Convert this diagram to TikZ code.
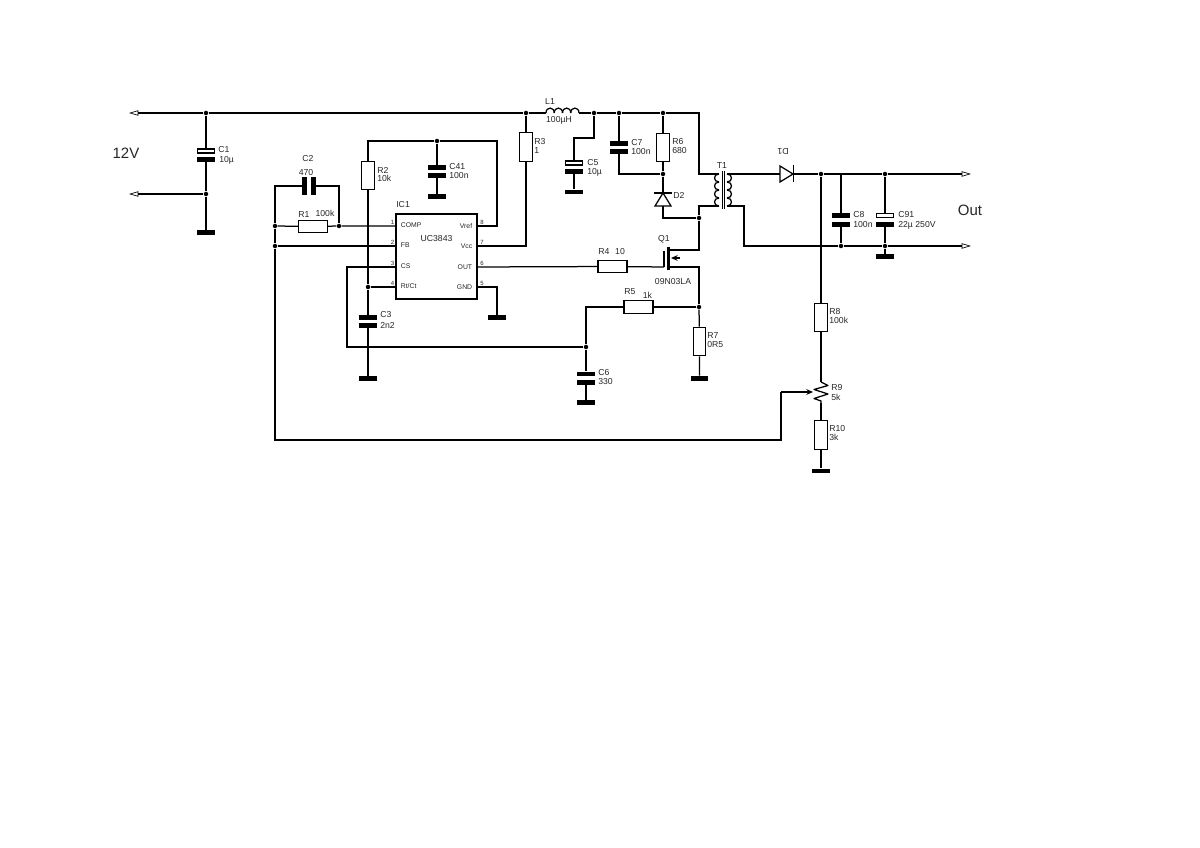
\documentclass[tikz,border=0pt]{standalone}
\usepackage{fontspec}
\setmainfont{Liberation Sans}
\usetikzlibrary{arrows.meta}

\tikzset{
  wire/.style={line width=.75pt,line join=miter},
  jdot/.style={circle,fill=black,inner sep=0pt,minimum size=2.7pt},
  resbox/.style={draw,line width=.7pt,fill=white,inner sep=0pt,minimum width=7.6pt,minimum height=17.2pt},
  resboxh/.style={draw,line width=.7pt,fill=white,inner sep=0pt,minimum width=17.4pt,minimum height=7.6pt},
  plate/.style={fill=black,inner sep=0pt,minimum width=10.6pt,minimum height=2.9pt},
  plateo/.style={draw,line width=.7pt,fill=white,inner sep=0pt,minimum width=10pt,minimum height=2.4pt},
  plateh/.style={fill=black,inner sep=0pt,minimum width=2.9pt,minimum height=10.8pt},
  gndbar/.style={fill=black,inner sep=0pt,minimum width=10.6pt,minimum height=2.9pt},
  lab/.style={inner sep=0pt,font=\fontsize{5.2}{6}\selectfont,text=black!85},
  lableft/.style={lab,anchor=west},
  pinlab/.style={inner sep=0pt,font=\fontsize{4.1}{5}\selectfont,text=black!85},
  pinnum/.style={inner sep=0pt,font=\fontsize{3.6}{4}\selectfont,text=black!85},
  biglab/.style={inner sep=0pt,font=\fontsize{9}{10}\selectfont,text=black!85},
  port/.style={-{Triangle[open,length=5.6pt,width=3.2pt,line width=.4pt]},line width=.75pt},
}

\begin{document}
\begin{tikzpicture}[x=.6pt,y=-.6pt,>=stealth]
  \useasboundingbox (0,0) rectangle (1200,848);

  % junctions
  \foreach \n/\x/\y in {a/206/113,b/206/194,c/526/113,d/594/113,e/619/113,f/663/113,
      g/437/141,h/275/226,i/275/246,j/339/226,k/368/287,l/586/347,m/699/307,
      n/663/174,o/699/218,p/821/174,q/885/174,r/841/246,s/885/246}
    \node[jdot] (j\n) at (\x,\y) {};

  % free ends
  \coordinate (in1) at (129,113);
  \coordinate (in2) at (129,194);
  \coordinate (out1) at (971,174);
  \coordinate (out2) at (971,246);

  % input
  \draw[port] (ja) -- (in1);
  \draw[port] (jb) -- (in2);
  \node[plateo] (C1a) at (206,151) {};
  \node[plate] (C1b) at (206,159.5) {};
  \node[gndbar] (G1) at (206,232.5) {};
  \draw[wire] (ja) -- (C1a) (C1b) -- (jb) -- (G1);
  \draw[wire] (ja) -- (jc);
  \node[lableft] (lC1) at (218,150) {C1};
  \node[lableft] (vC1) at (219,160) {10µ};
  \node[biglab] (l12V) at (126,153) {12V};

  % IC
  \node[draw,line width=1pt,fill=white,inner sep=0pt,minimum width=48.6pt,minimum height=51pt] (IC1) at (436.5,256.5) {};
  \node[lab,anchor=west] (lIC1) at (396,205) {IC1};
  \node[lab] (vIC1) at (436.5,239) {UC3843};
  \foreach \n/\y/\t in {1/226/COMP,2/246/FB,3/267/CS,4/287/{Rt/Ct}} {
    \coordinate (p\n) at (396,\y);
    \node[pinlab,anchor=west] (t\n) at (400.5,\y-.5) {\t};
    \node[pinnum] (n\n) at (392.5,\y-3.5) {\n};
  }
  \foreach \n/\y/\t in {8/226/Vref,7/246/Vcc,6/267/OUT,5/287/GND} {
    \coordinate (p\n) at (477,\y);
    \node[pinlab,anchor=east] (t\n) at (472.5,\y) {\t};
    \node[pinnum] (n\n) at (482,\y-3.5) {\n};
  }

  % feedback network
  \node[resboxh] (R1) at (313,226.5) {};
  \node[plateh] (C2a) at (304.5,186) {};
  \node[plateh] (C2b) at (313.5,186) {};
  \draw[wire] (jh) |- (C2a) (C2b) -| (jj);
  \draw[wire] (jh) -- (R1) -- (jj) -- (p1);
  \draw[wire] (jh) -- (ji) -- (p2);
  \coordinate (wip) at (781,440);
  \coordinate (wiq) at (781,392);
  \draw[wire] (ji) |- (wip) -- (wiq);
  \node[lab] (lC2) at (308,159) {C2};
  \node[lab] (vC2) at (306,172.5) {470};
  \node[lab] (lR1) at (304,215) {R1};
  \node[lab] (vR1) at (325,213.5) {100k};

  % Vref and timing
  \node[resbox] (R2) at (368,175.5) {};
  \node[plate] (C3a) at (368,317.5) {};
  \node[plate] (C3b) at (368,325.5) {};
  \node[gndbar] (G3) at (368,378.5) {};
  \node[plate] (C41a) at (437,167.5) {};
  \node[plate] (C41b) at (437,175.5) {};
  \node[gndbar] (G41) at (437,196.5) {};
  \draw[wire] (R2) |- (jg) -| (497,226) -- (p8);
  \draw[wire] (R2) -- (jk) -- (C3a) (C3b) -- (G3);
  \draw[wire] (jk) -- (p4);
  \draw[wire] (jg) -- (C41a) (C41b) -- (G41);
  \node[lableft] (lR2) at (377,170) {R2};
  \node[lableft] (vR2) at (377,178.5) {10k};
  \node[lableft] (lC3) at (380,315) {C3};
  \node[lableft] (vC3) at (380,325) {2n2};
  \node[lableft] (lC41) at (449,166.5) {C41};
  \node[lableft] (vC41) at (449,176) {100n};

  % Vcc and rail
  \node[resbox] (R3) at (526,147) {};
  \draw[wire] (jc) -- (R3) |- (p7);
  \node[lableft] (lR3) at (534,142) {R3};
  \node[lableft] (vR3) at (534,150.5) {1};
  \coordinate (L1a) at (546,113);
  \coordinate (L1b) at (579,113);
  \draw[wire] (jc) -- (L1a);
  \foreach \x in {546,554.25,562.5,570.75}
    \draw[wire] (\x,113) .. controls (\x,106.5) and (\x+8.25,106.5) .. (\x+8.25,113);
  \draw[wire] (L1b) -- (jd) -- (je) -- (jf);
  \node[lab] (lL1) at (550,102) {L1};
  \node[lab] (vL1) at (559,120) {100µH};
  \node[plateo] (C5a) at (574,163) {};
  \node[plate] (C5b) at (574,171.5) {};
  \node[gndbar] (G5) at (574,192) {};
  \coordinate (c5t) at (574,138);
  \draw[wire] (jd) |- (c5t) -- (C5a) (C5b) -- (G5);
  \node[lableft] (lC5) at (587,163) {C5};
  \node[lableft] (vC5) at (587,172.5) {10µ};

  % snubber
  \node[plate] (C7a) at (619,143.5) {};
  \node[plate] (C7b) at (619,151.5) {};
  \node[resbox] (R6) at (663,147.5) {};
  \draw[wire] (je) -- (C7a) (C7b) |- (jn);
  \draw[wire] (jf) -- (R6) -- (jn);
  \coordinate (D2k) at (663,193);
  \coordinate (D2a) at (663,206);
  \draw[wire] (jn) -- (D2k);
  \draw[line width=.9pt] (654,193) -- (672,193);
  \draw[wire] (D2k) -- (655,206) -- (671,206) -- cycle;
  \draw[wire] (D2a) |- (jo);
  \node[lableft] (lC7) at (631,142.5) {C7};
  \node[lableft] (vC7) at (631,151.5) {100n};
  \node[lableft] (lR6) at (672,142) {R6};
  \node[lableft] (vR6) at (672,150.5) {680};
  \node[lableft] (lD2) at (673,195) {D2};

  % transformer
  \coordinate (T1a) at (719,174);
  \coordinate (T1b) at (719,206);
  \coordinate (T1c) at (727,174);
  \coordinate (T1d) at (727,206);
  \coordinate (Ttop) at (699,174);
  \coordinate (Tbot) at (699,206);
  \draw[wire] (jf) -| (Ttop) -- (T1a);
  \draw[wire] (T1b) -- (Tbot) -- (jo);
  \foreach \y in {174,182,190,198} {
    \draw[wire] (719,\y) .. controls (713,\y) and (713,\y+8) .. (719,\y+8);
    \draw[wire] (727,\y) .. controls (733,\y) and (733,\y+8) .. (727,\y+8);
  }
  \draw[line width=.5pt] (722,171) -- (722,209) (724.5,171) -- (724.5,209);
  \node[lab] (lT1) at (722,166) {T1};

  % switch
  \node[resboxh] (R4) at (612.5,266.5) {};
  \draw[wire] (p6) -- (R4);
  \coordinate (Qg) at (664,267);
  \draw[wire] (R4) -- (Qg);
  \draw[wire] (664,251) -- (Qg);
  \draw[line width=2pt] (668.5,247) -- (668.5,270);
  \draw[wire] (669,250) -| (jo);
  \coordinate (Qs) at (669,267);
  \draw[wire] (Qs) -| (jm);
  \draw[wire,-{Stealth[length=4pt,width=3.4pt]}] (680,258) -- (671,258);
  \node[lab] (lR4) at (604,251.5) {R4};
  \node[lab] (vR4) at (620,252) {10};
  \node[lab] (lQ1) at (664,239) {Q1};
  \node[lab] (vQ1) at (673,281.5) {09N03LA};

  % pin 5
  \node[gndbar] (G5b) at (497,317.5) {};
  \draw[wire] (p5) -| (G5b);

  % current sense
  \node[resboxh] (R5) at (638.5,307) {};
  \node[resbox] (R7) at (699.5,341.5) {};
  \node[gndbar] (G7) at (699.5,378.5) {};
  \node[plate] (C6a) at (586,374) {};
  \node[plate] (C6b) at (586,382.5) {};
  \node[gndbar] (G6) at (586,402.5) {};
  \draw[wire] (jm) -- (R5) -| (jl);
  \draw[wire] (jm) -- (R7) -- (G7);
  \draw[wire] (p3) -| (347,347) -- (jl);
  \draw[wire] (jl) -- (C6a) (C6b) -- (G6);
  \node[lab] (lR5) at (630,292) {R5};
  \node[lab] (vR5) at (647.5,295) {1k};
  \node[lableft] (lR7) at (707,336) {R7};
  \node[lableft] (vR7) at (707,344.5) {0R5};
  \node[lableft] (lC6) at (598,372.5) {C6};
  \node[lableft] (vC6) at (598,382) {330};

  % secondary
  \coordinate (D1a) at (780,174);
  \coordinate (D1k) at (793,174);
  \coordinate (T2b) at (744,206);
  \draw[wire] (T1c) -- (D1a);
  \draw[wire] (D1a) -- (780,166) -- (793,174) -- (780,182) -- cycle;
  \draw[line width=.9pt] (793.5,165.5) -- (793.5,182.5);
  \draw[wire] (D1k) -- (jp) -- (jq);
  \draw[port] (jq) -- (out1);
  \draw[wire] (T1d) -- (T2b) |- (jr);
  \draw[wire] (jr) -- (js);
  \draw[port] (js) -- (out2);
  \node[lab,rotate=180] (lD1) at (783,151) {D1};
  \node[plate] (C8a) at (841,215.5) {};
  \node[plate] (C8b) at (841,224.5) {};
  \node[plateo] (C91a) at (885,215.5) {};
  \node[plate] (C91b) at (885,224.5) {};
  \node[gndbar] (G91) at (885,256.5) {};
  \draw[wire] (841,174) -- (C8a) (C8b) -- (jr);
  \draw[wire] (jq) -- (C91a) (C91b) -- (js) -- (G91);
  \node[lableft] (lC8) at (853,215) {C8};
  \node[lableft] (vC8) at (853,225) {100n};
  \node[lableft] (lC91) at (898,215) {C91};
  \node[lableft] (vC91) at (898,225) {22µ 250V};
  \node[biglab] (lOut) at (970,210) {Out};

  % output divider
  \node[resbox] (R8) at (821,317.5) {};
  \node[resbox] (R10) at (821,435) {};
  \node[gndbar] (G10) at (821,471) {};
  \coordinate (R9t) at (821,382);
  \coordinate (R9b) at (821,403);
  \draw[wire] (jp) -- (R8) -- (R9t);
  \draw[wire,line join=round] (R9t) -- (828,385.5) -- (814,389.5) -- (828,394) -- (814,398.5) -- (821,401) -- (R9b);
  \draw[wire] (R9b) -- (R10) -- (G10);
  \draw[wire,-{Stealth[length=4pt,width=3.4pt]}] (wiq) -- (813,392);
  \node[lableft] (lR8) at (829,312) {R8};
  \node[lableft] (vR8) at (829,320) {100k};
  \node[lableft] (lR9) at (831,388) {R9};
  \node[lableft] (vR9) at (831,397) {5k};
  \node[lableft] (lR10) at (829,429) {R10};
  \node[lableft] (vR10) at (829,437) {3k};
\end{tikzpicture}
\end{document}
